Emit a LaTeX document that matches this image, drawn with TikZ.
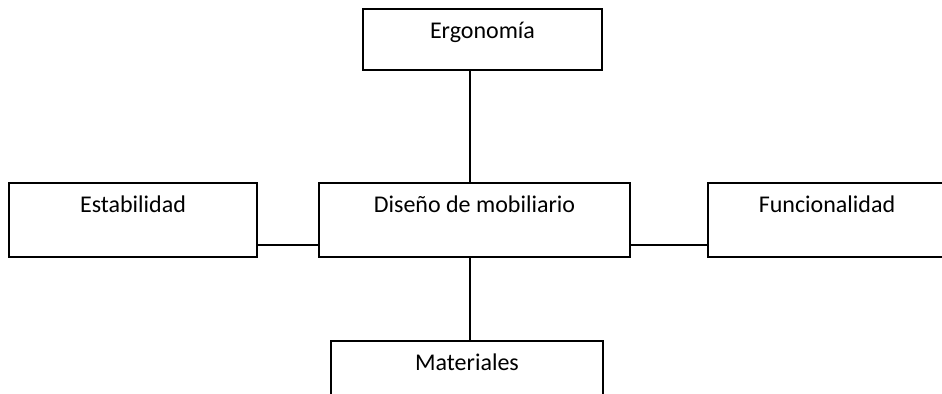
\documentclass[tikz,border=0pt]{standalone}
\usepackage{fontspec}
\setmainfont{Carlito}
\usepackage{tikz}
\tikzset{
	topic/.style={draw, line width=0.7pt, inner sep=0pt, text height=15pt, font=\fontsize{12}{14}\selectfont},
	link/.style={line width=0.7pt}
}

\begin{document}
\begin{tikzpicture}
			%%%%% START %%%%%
			
			\useasboundingbox (0pt, 0pt) rectangle (471pt, -197pt);
			
			\node[topic, minimum width=155.5pt, text depth=22pt] (mobiliario) at (237.25pt, -110pt) {Diseño de mobiliario};
			\node[topic, minimum width=119.5pt, text depth=15.5pt] (ergonomia) at (241.25pt, -19.75pt) {Ergonomía};
			\node[topic, minimum width=124pt, text depth=22pt] (estabilidad) at (66.5pt, -110pt) {Estabilidad};
			\node[topic, minimum width=119pt, text depth=22pt] (funcionalidad) at (413.5pt, -110pt) {Funcionalidad};
			\node[topic, minimum width=136pt, text depth=22pt] (materiales) at (233.5pt, -189pt) {Materiales};
			
			\coordinate (eje) at (235pt, 0pt);
			
			\draw[link] (ergonomia.south -| eje) -- (mobiliario.north -| eje);
			\draw[link] (mobiliario.south -| eje) -- (materiales.north -| eje);
			\draw[link] ([yshift=-12.5pt]estabilidad.east) -- ([yshift=-12.5pt]mobiliario.west);
			\draw[link] ([yshift=-12.5pt]mobiliario.east) -- ([yshift=-12.5pt]funcionalidad.west);
			
			%%%%% END %%%%%
		\end{tikzpicture}
\end{document}
